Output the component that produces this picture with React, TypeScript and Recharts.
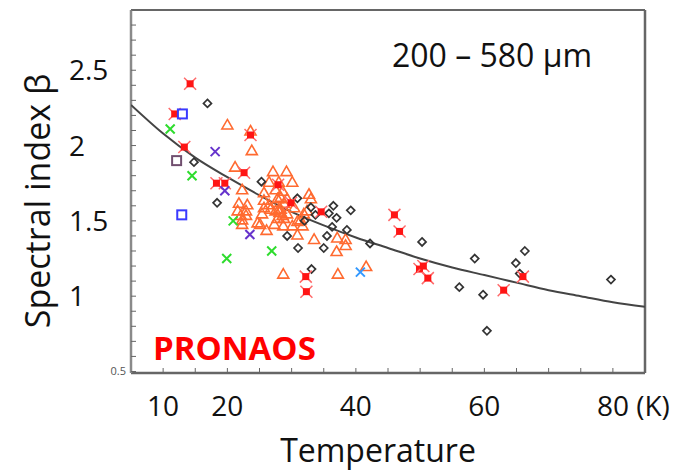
import React from 'react';
import { ScatterChart, Scatter, XAxis, YAxis } from 'recharts';

// [temperature K, beta]
const fitCurve: [number, number][] = [
  [5, 2.27], [10, 2.08], [15, 1.92], [20, 1.79], [25, 1.67], [30, 1.56], [35, 1.47], [40, 1.39], [45, 1.32],
  [50, 1.25], [55, 1.19], [60, 1.14], [65, 1.09], [70, 1.04], [75, 1.0], [80, 0.96], [85, 0.93],
];

const orangeTriangles: [number, number][] = [
  [20.0, 2.14], [23.6, 2.1], [23.8, 1.97], [21.2, 1.86], [27.1, 1.83], [29.2, 1.83], [22.3, 1.71], [26.5, 1.76],
  [28.0, 1.76], [30.1, 1.76], [27.5, 1.71], [28.6, 1.7], [25.7, 1.69], [28.3, 1.66], [29.3, 1.65], [32.7, 1.68],
  [33.0, 1.65], [26.5, 1.61], [25.7, 1.59], [27.8, 1.65], [30.4, 1.59], [21.8, 1.62], [23.1, 1.61], [21.6, 1.57],
  [22.9, 1.57], [22.3, 1.51], [22.3, 1.48], [25.1, 1.48], [26.1, 1.44], [27.3, 1.48], [28.7, 1.47], [30.1, 1.47],
  [31.7, 1.47], [30.9, 1.41], [33.5, 1.38], [31.4, 1.51], [31.9, 1.55], [32.4, 1.57], [28.3, 1.58], [29.3, 1.55],
  [27.8, 1.52], [37.1, 1.39], [38.4, 1.38], [38.4, 1.34], [37.0, 1.3], [41.6, 1.2], [28.7, 1.15], [37.2, 1.15],
  [22.1, 1.54], [22.9, 1.54], [25.7, 1.64], [26.7, 1.58], [28.0, 1.58], [28.8, 1.62], [25.4, 1.55], [28.8, 1.52],
  [30.9, 1.5], [24.7, 1.49], [28.1, 1.56], [28.6, 1.54], [27.5, 1.57],
];

const blackDiamonds: [number, number][] = [
  [16.9, 2.28], [14.8, 1.89], [25.3, 1.76], [18.4, 1.62], [30.9, 1.65], [33.0, 1.59], [32.0, 1.5], [33.7, 1.54],
  [36.5, 1.6], [35.8, 1.55], [37.0, 1.52], [39.2, 1.57], [36.3, 1.46], [38.6, 1.44], [35.5, 1.4], [42.2, 1.35],
  [29.3, 1.4], [31.0, 1.32], [35.0, 1.32], [33.1, 1.18], [50.3, 1.36], [58.5, 1.25], [64.9, 1.22], [66.3, 1.3],
  [65.5, 1.15], [56.1, 1.06], [59.8, 1.01], [60.4, 0.77], [79.7, 1.11],
];

const redStars: [number, number][] = [
  [14.2, 2.41], [11.8, 2.21], [23.6, 2.07], [13.3, 1.99], [22.6, 1.82], [18.3, 1.75], [19.6, 1.75], [27.9, 1.74],
  [29.9, 1.62], [34.6, 1.56], [32.2, 1.13], [32.3, 1.03], [46.0, 1.54], [46.8, 1.43], [49.9, 1.18], [50.5, 1.2],
  [51.2, 1.12], [63.0, 1.04], [66.0, 1.13],
];

const blueSquares: [number, number][] = [[13.0, 2.21], [12.9, 1.54]];
const plumSquares: [number, number][] = [[12.1, 1.9]];
const greenCrosses: [number, number][] = [[11.1, 2.11], [14.5, 1.8], [20.9, 1.5], [19.9, 1.25], [26.9, 1.3]];
const purpleCrosses: [number, number][] = [[18.1, 1.96], [19.6, 1.7], [23.5, 1.41]];
const skyCrosses: [number, number][] = [[40.7, 1.16]];

const xTicks = [5, 10, 15, 20, 25, 30, 35, 40, 45, 50, 55, 60, 65, 70, 75, 80, 85];
const xLabels = [10, 20, 40, 60, 80];
const yTicks = [
  0.5, 0.6, 0.7, 0.8, 0.9, 1, 1.1, 1.2, 1.3, 1.4, 1.5, 1.6, 1.7, 1.8, 1.9, 2, 2.1, 2.2, 2.3, 2.4, 2.5, 2.6, 2.7,
  2.8, 2.9,
];
const yLabels = [0.5, 1, 1.5, 2, 2.5];

const toPoints = (pairs: [number, number][]) => pairs.map(([t, b]) => ({ t, b }));

const FONT = '"Open Sans", sans-serif';
const AXIS = '#666';

const triangle = (color: string) => (p: any) => (
  <path
    d={`M${p.cx},${p.cy - 5} L${p.cx + 5.5},${p.cy + 4.5} L${p.cx - 5.5},${p.cy + 4.5} Z`}
    fill="none"
    stroke={color}
    strokeWidth={1.6}
  />
);

const diamond = (p: any) => (
  <path
    d={`M${p.cx},${p.cy - 4} L${p.cx + 4},${p.cy} L${p.cx},${p.cy + 4} L${p.cx - 4},${p.cy} Z`}
    fill="none"
    stroke="#333"
    strokeWidth={1.7}
  />
);

const star = (p: any) => (
  <g>
    <path
      d={`M${p.cx - 6},${p.cy - 6} L${p.cx + 6},${p.cy + 6} M${p.cx + 6},${p.cy - 6} L${p.cx - 6},${p.cy + 6}`}
      stroke="#ff6a6a"
      strokeWidth={1.5}
    />
    <rect x={p.cx - 3.5} y={p.cy - 3.5} width={7} height={7} fill="#ff1414" />
  </g>
);

const square = (color: string) => (p: any) => (
  <rect x={p.cx - 4.5} y={p.cy - 4.5} width={9} height={9} fill="none" stroke={color} strokeWidth={2} />
);

const cross = (color: string) => (p: any) => (
  <path
    d={`M${p.cx - 4.5},${p.cy - 4.5} L${p.cx + 4.5},${p.cy + 4.5} M${p.cx + 4.5},${p.cy - 4.5} L${p.cx - 4.5},${p.cy + 4.5}`}
    stroke={color}
    strokeWidth={2}
  />
);

const XTick = (p: any) => {
  const v = p.payload.value;
  if (!xLabels.includes(v)) return null;
  if (v === 80) {
    return (
      <text x={p.x - 16} y={p.y + 46} textAnchor="start" fontSize={28} fontFamily={FONT} fill="#111">
        80 (K)
      </text>
    );
  }
  return (
    <text x={p.x} y={p.y + 46} textAnchor="middle" fontSize={28} fontFamily={FONT} fill="#111">
      {v}
    </text>
  );
};

const YTick = (p: any) => {
  const v = p.payload.value;
  if (!yLabels.some((l) => Math.abs(l - v) < 1e-6)) return null;
  if (Math.abs(v - 0.5) < 1e-6) {
    return (
      <text x={p.x - 8} y={p.y + 4} textAnchor="end" fontSize={11} fontFamily={FONT} fill="#555">
        0.5
      </text>
    );
  }
  return (
    <text x={p.x - 65} y={p.y + 10} textAnchor="start" fontSize={28} fontFamily={FONT} fill="#111">
      {String(v)}
    </text>
  );
};

const none = () => <g />;

export default function App() {
  return (
    <div style={{ position: 'absolute', left: 0, top: 0, width: 679, height: 471, background: '#fff' }}>
      <ScatterChart width={679} height={471} margin={{ top: 0, right: 0, bottom: 0, left: 0 }}>
        <XAxis
          xAxisId="b"
          type="number"
          dataKey="t"
          domain={[5, 85]}
          ticks={xTicks}
          interval={0}
          allowDataOverflow
          height={98}
          tickSize={-5}
          tickLine={{ stroke: AXIS }}
          axisLine={{ stroke: AXIS, strokeWidth: 2.5 }}
          tick={XTick}
        />
        <XAxis
          xAxisId="t"
          orientation="top"
          type="number"
          domain={[5, 85]}
          ticks={xTicks}
          interval={0}
          allowDataOverflow
          height={10}
          tickSize={-5}
          tickLine={{ stroke: AXIS }}
          axisLine={{ stroke: AXIS, strokeWidth: 2 }}
          tick={false}
        />
        <YAxis
          yAxisId="l"
          type="number"
          dataKey="b"
          domain={[0.49, 2.9]}
          ticks={yTicks}
          interval={0}
          allowDataOverflow
          width={131}
          tickSize={-5}
          tickLine={{ stroke: AXIS }}
          axisLine={{ stroke: '#8a8a8a', strokeWidth: 2.5 }}
          tick={YTick}
        />
        <YAxis
          yAxisId="r"
          orientation="right"
          type="number"
          domain={[0.49, 2.9]}
          ticks={yTicks}
          interval={0}
          allowDataOverflow
          width={34}
          tickSize={-5}
          tickLine={{ stroke: AXIS }}
          axisLine={{ stroke: AXIS, strokeWidth: 2.5 }}
          tick={false}
        />
        <Scatter
          xAxisId="b"
          yAxisId="l"
          data={toPoints(fitCurve)}
          line={{ stroke: '#444', strokeWidth: 2 }}
          lineJointType="monotoneX"
          shape={none}
          isAnimationActive={false}
        />
        <Scatter xAxisId="b" yAxisId="l" data={toPoints(orangeTriangles)} shape={triangle('#ff6a30')} isAnimationActive={false} />
        <Scatter xAxisId="b" yAxisId="l" data={toPoints(blackDiamonds)} shape={diamond} isAnimationActive={false} />
        <Scatter xAxisId="b" yAxisId="l" data={toPoints(redStars)} shape={star} isAnimationActive={false} />
        <Scatter xAxisId="b" yAxisId="l" data={toPoints(blueSquares)} shape={square('#3a3aff')} isAnimationActive={false} />
        <Scatter xAxisId="b" yAxisId="l" data={toPoints(plumSquares)} shape={square('#704e6e')} isAnimationActive={false} />
        <Scatter xAxisId="b" yAxisId="l" data={toPoints(greenCrosses)} shape={cross('#2edc2e')} isAnimationActive={false} />
        <Scatter xAxisId="b" yAxisId="l" data={toPoints(purpleCrosses)} shape={cross('#6633cc')} isAnimationActive={false} />
        <Scatter xAxisId="b" yAxisId="l" data={toPoints(skyCrosses)} shape={cross('#3399ff')} isAnimationActive={false} />
      </ScatterChart>
      <svg
        width={679}
        height={471}
        style={{ position: 'absolute', left: 0, top: 0, pointerEvents: 'none' }}
        fontFamily={FONT}
      >
        <text x={392} y={67} fontSize={32} fill="#111">
          200 – 580 µm
        </text>
        <text x={153} y={360} fontSize={33} fontWeight="bold" fill="#ff0000">
          PRONAOS
        </text>
        <text x={378} y={462} fontSize={32} textAnchor="middle" fill="#111">
          Temperature
        </text>
        <text x={50} y={201} fontSize={34} textAnchor="middle" fill="#111" transform="rotate(-90, 50, 201)">
          Spectral index β
        </text>
      </svg>
    </div>
  );
}
